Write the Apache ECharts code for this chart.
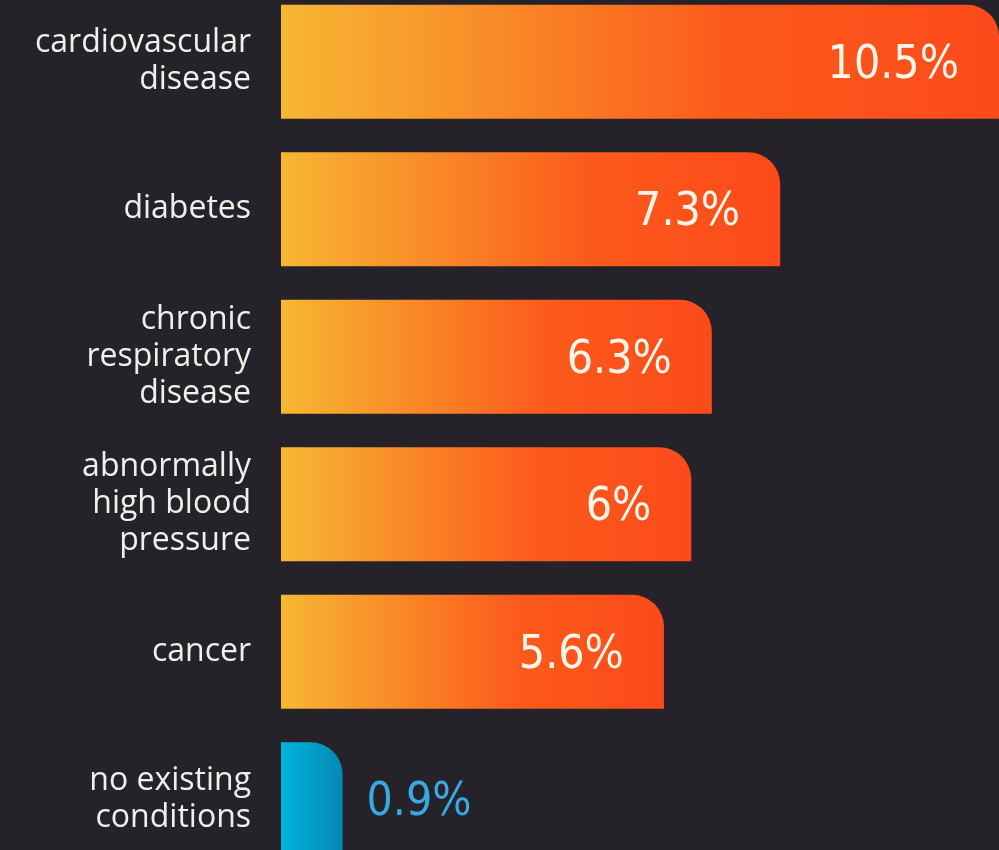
<!DOCTYPE html>
<html>
<head>
<meta charset="utf-8">
<script src="https://cdn.jsdelivr.net/npm/echarts@6/dist/echarts.min.js"></script>
<style>
html,body{margin:0;padding:0;background:#25222a;}
#chart{width:999px;height:850px;}
</style>
</head>
<body>
<div id="chart"></div>
<script>
const categories = [
  'cardiovascular\ndisease',
  'diabetes',
  'chronic\nrespiratory\ndisease',
  'abnormally\nhigh blood\npressure',
  'cancer',
  'no existing\nconditions'
];
const values = [10.5, 7.3, 6.3, 6, 5.6, 0.9];
const valueLabels = ['10.5%', '7.3%', '6.3%', '6%', '5.6%', '0.9%'];
const highlightIndex = 5; // "no existing conditions" shown in blue

const orangeGrad = new echarts.graphic.LinearGradient(0, 0, 1, 0, [
  {offset: 0, color: '#f7b733'},
  {offset: 0.62, color: '#fc5a1c'},
  {offset: 1, color: '#fc4a1a'}
]);
const blueGrad = new echarts.graphic.LinearGradient(0, 0, 1, 0, [
  {offset: 0, color: '#00b4db'},
  {offset: 1, color: '#0588b5'}
]);

const data = values.map((v, i) => {
  const isBlue = i === highlightIndex;
  return {
    value: v,
    itemStyle: {color: isBlue ? blueGrad : orangeGrad},
    label: isBlue ? {
      position: 'right', distance: 24, color: '#3aa9e2'
    } : {
      position: 'insideRight', distance: 40, color: '#fff6ea'
    }
  };
});

const chart = echarts.init(document.getElementById('chart'));
chart.setOption({
  backgroundColor: '#25222a',
  animation: false,
  grid: {left: 281, right: 0, top: -12, height: 885, containLabel: false, outerBoundsMode: 'none'},
  xAxis: {
    type: 'value', min: 0, max: 10.5, show: false
  },
  yAxis: {
    type: 'category', data: categories, inverse: true,
    axisLine: {show: false}, axisTick: {show: false}, splitLine: {show: false},
    axisLabel: {
      color: '#f2efea', fontSize: 32, lineHeight: 37, margin: 30,
      fontFamily: 'Open Sans', align: 'right'
    }
  },
  series: [{
    type: 'bar',
    data: data,
    barCategoryGap: '22.7%',
    itemStyle: {borderRadius: [0, 32, 0, 0]},
    label: {
      show: true,
      fontFamily: '"DejaVu Sans Condensed", "Roboto Condensed", Roboto, sans-serif',
      fontSize: 46,
      offset: [0, 4],
      formatter: p => valueLabels[p.dataIndex]
    }
  }]
});
</script>
</body>
</html>
